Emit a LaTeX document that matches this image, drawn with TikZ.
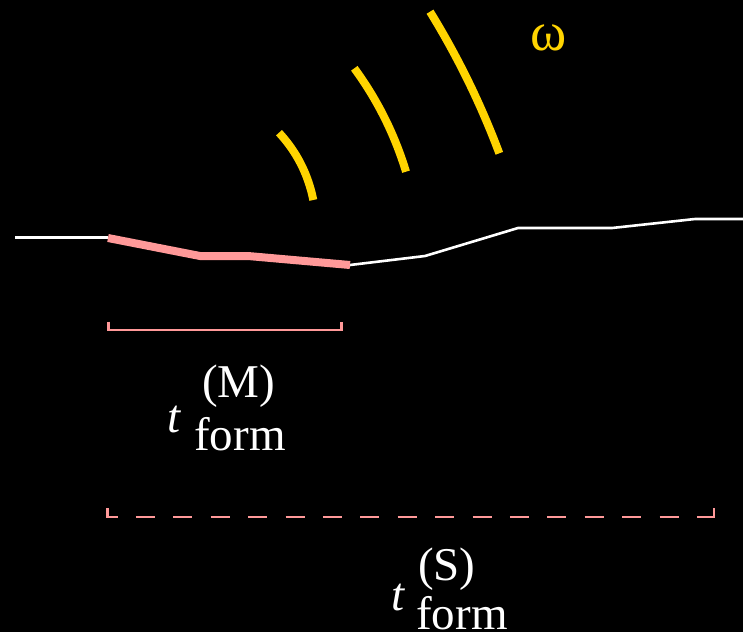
\documentclass[tikz,border=0pt]{standalone}
\usepackage{fontspec}
\setmainfont{Liberation Serif}
\definecolor{wavegold}{RGB}{255,212,0}
\definecolor{formpink}{RGB}{255,153,153}
\tikzset{
  formtext/.style={text=white, inner sep=0pt, anchor=base west, font=\fontsize{47}{50}\selectfont},
  wave/.style={wavegold, line width=8pt},
}
\begin{document}
\begin{tikzpicture}[x=1pt, y=-1pt]
    \fill[black] (0,0) rectangle (743,632);
    \useasboundingbox (0,0) rectangle (743,632);

    % signal line
    \draw[white, line width=2.6pt] (15,237.5) -- (108,237.5);
    \draw[white, line width=2.6pt] (350,265) -- (425,256) -- (518,228) -- (612,228) -- (695,219) -- (743,219);
    \draw[formpink, line width=8pt] (108,238) -- (200,256) -- (248,256) -- (350,265);

    % waves
    \draw[wave] (279,132.7) .. controls (296.7,151.8) and (308.1,174.3) .. (313.3,200);
    \draw[wave] (354.3,68.3) .. controls (377.4,99.8) and (394.6,134.3) .. (406,171.7);
    \draw[wave] (430,11.7) .. controls (457.6,56.5) and (480.7,103.7) .. (499.3,153.3);
    \node[wavegold, inner sep=0pt, font=\fontsize{55}{58}\selectfont] (omega) at (548.5,38) {ω};

    % formation times
    \draw[formpink, line width=2.6pt] (108.3,321.7) -- (108.3,330) -- (341.7,330) -- (341.7,321.7);
    \draw[formpink, line width=2.6pt, dash pattern=on 19pt off 18.4pt]
      (107.5,508) -- (107.5,517) -- (714,517) -- (714,508);
    \draw[formpink, line width=2.6pt] (705,517) -- (714,517) -- (714,508);

    \node[formtext] (tM) at (167,432) {\textit{t}};
    \node[formtext] (supM) at (202,397) {(M)};
    \node[formtext] (subM) at (194,450) {form};

    \node[formtext] (tS) at (391,610) {\textit{t}};
    \node[formtext] (supS) at (418,580) {(S)};
    \node[formtext] (subS) at (416,629) {form};
  \end{tikzpicture}
\end{document}
